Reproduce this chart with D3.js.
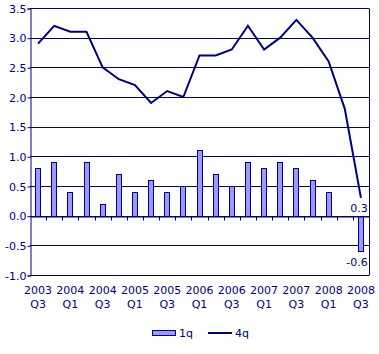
<!DOCTYPE html>
<html>
<head>
<meta charset="utf-8">
<script src="https://cdn.jsdelivr.net/npm/d3@7"></script>
<style>
  body { margin: 0; background: #fff; }
  text { font-family: "DejaVu Sans", Verdana, sans-serif; font-size: 11px; fill: #000080; }
</style>
</head>
<body>
<script>
// 四半期ラベル
const quarters = ["2003 Q3","2003 Q4","2004 Q1","2004 Q2","2004 Q3","2004 Q4","2005 Q1","2005 Q2","2005 Q3","2005 Q4",
  "2006 Q1","2006 Q2","2006 Q3","2006 Q4","2007 Q1","2007 Q2","2007 Q3","2007 Q4","2008 Q1","2008 Q2","2008 Q3"];
// 前期比 (棒)
const q1 = [0.8,0.9,0.4,0.9,0.2,0.7,0.4,0.6,0.4,0.5,1.1,0.7,0.5,0.9,0.8,0.9,0.8,0.6,0.4,0.0,-0.6];
// 前年比 (線)
const q4 = [2.9,3.2,3.1,3.1,2.5,2.3,2.2,1.9,2.1,2.0,2.7,2.7,2.8,3.2,2.8,3.0,3.3,3.0,2.6,1.8,0.3];
const yTicks = [-1.0,-0.5,0.0,0.5,1.0,1.5,2.0,2.5,3.0,3.5];

const navy = "#000080";
const width = 379, height = 354;
const plotL = 30, plotR = 369, plotT = 8, plotB = 275;

const svg = d3.select("body").append("svg")
    .attr("width", width)
    .attr("height", height);

const x = d3.scaleBand().domain(quarters).range([plotL, plotR]);
const y = d3.scaleLinear().domain([-1, 3.5]).range([plotB, plotT]);

// グリッド線
svg.append("g").selectAll("line")
    .data(yTicks)
    .enter().append("line")
    .attr("x1", plotL).attr("x2", plotR)
    .attr("y1", d => Math.round(y(d)) + 0.5)
    .attr("y2", d => Math.round(y(d)) + 0.5)
    .attr("stroke", navy).attr("stroke-width", 1);

// 枠
svg.append("line")
    .attr("x1", plotR + 0.5).attr("x2", plotR + 0.5)
    .attr("y1", Math.round(y(3.5)) + 0.5).attr("y2", Math.round(y(-1)) + 0.5)
    .attr("stroke", navy);

// y軸
const yAxis = svg.append("g")
    .attr("transform", `translate(${plotL + 0.5},0.5)`)
    .call(d3.axisLeft(y).tickValues(yTicks).tickFormat(d3.format(".1f")).tickSize(3).tickPadding(1));
yAxis.select(".domain").attr("stroke", navy);
yAxis.selectAll(".tick line").attr("stroke", navy);
yAxis.selectAll(".tick text").attr("fill", navy).style("font-size", "11px")
    .style("font-family", "DejaVu Sans, Verdana, sans-serif")
    .text(d => d.toFixed(1));

// 棒
svg.append("g").selectAll("rect")
    .data(q1.map((v, i) => ({ q: quarters[i], v })).filter(d => d.v !== 0))
    .enter().append("rect")
    .attr("x", d => Math.round(x(d.q) + x.bandwidth() / 2 - 3) + 0.5)
    .attr("width", 5)
    .attr("y", d => Math.round(y(Math.max(0, d.v))) + 0.5)
    .attr("height", d => Math.abs(Math.round(y(d.v)) - Math.round(y(0))))
    .attr("fill", "#9999ff")
    .attr("stroke", navy);

// x軸 (0の位置)
const xAxis = svg.append("g")
    .attr("transform", `translate(0.5,${Math.round(y(0)) + 0.5})`)
    .call(d3.axisBottom(x).tickValues([]).tickSizeOuter(0));
xAxis.select(".domain").attr("stroke", navy);
xAxis.selectAll(".bt").data(d3.range(1, quarters.length)).enter().append("line")
    .attr("x1", i => Math.round(plotL + i * x.step()))
    .attr("x2", i => Math.round(plotL + i * x.step()))
    .attr("y1", 0).attr("y2", 4)
    .attr("stroke", navy);

// 線
const line = d3.line()
    .x((d, i) => x(quarters[i]) + x.bandwidth() / 2)
    .y(d => y(d));
svg.append("path")
    .datum(q4)
    .attr("d", line)
    .attr("fill", "none")
    .attr("stroke", navy)
    .attr("stroke-width", 2);

// データラベル
const last = quarters.length - 1;
svg.append("text")
    .attr("x", x(quarters[last]) + x.bandwidth() / 2 - 2)
    .attr("y", y(q4[last]) + 14)
    .attr("text-anchor", "middle")
    .text(q4[last].toFixed(1));
svg.append("text")
    .attr("x", x(quarters[last]) + x.bandwidth() / 2 - 4)
    .attr("y", y(q1[last]) + 15)
    .attr("text-anchor", "middle")
    .text(q1[last].toFixed(1));

// x軸ラベル（2期おき）
const labels = svg.append("g").selectAll("g")
    .data(quarters.filter((d, i) => i % 2 === 0))
    .enter().append("g")
    .attr("transform", d => `translate(${x(d) + x.bandwidth() / 2},0)`);
labels.append("text").attr("y", 294).attr("text-anchor", "middle").text(d => d.split(" ")[0]);
labels.append("text").attr("y", 308).attr("text-anchor", "middle").text(d => d.split(" ")[1]);

// 凡例
const legend = svg.append("g");
legend.append("rect")
    .attr("x", 152.5).attr("y", 330.5).attr("width", 23).attr("height", 5)
    .attr("fill", "#9999ff").attr("stroke", navy);
legend.append("text").attr("x", 179).attr("y", 337).text("1q");
legend.append("line")
    .attr("x1", 208).attr("x2", 232).attr("y1", 333).attr("y2", 333)
    .attr("stroke", navy).attr("stroke-width", 2);
legend.append("text").attr("x", 235).attr("y", 337).text("4q");
</script>
</body>
</html>
